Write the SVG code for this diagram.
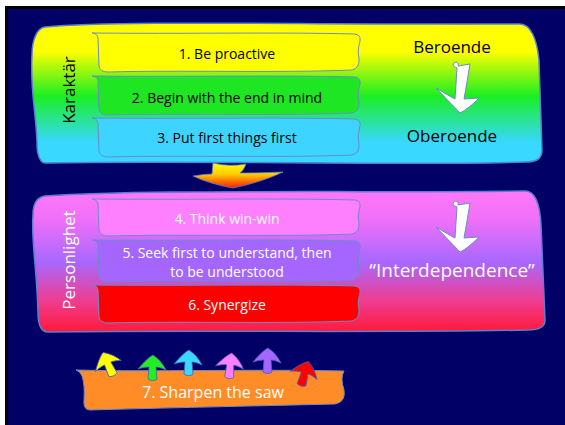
<svg xmlns="http://www.w3.org/2000/svg" width="565" height="425" viewBox="0 0 565 425">
<defs>
<linearGradient id="gTop" x1="0" y1="0" x2="0" y2="1">
<stop offset="0" stop-color="#ffff00"/>
<stop offset="0.2" stop-color="#ffff00"/>
<stop offset="0.52" stop-color="#1aee22"/>
<stop offset="0.85" stop-color="#38d8ff"/>
<stop offset="1" stop-color="#38d8ff"/>
</linearGradient>
<linearGradient id="gMid" x1="0" y1="0" x2="0" y2="1">
<stop offset="0" stop-color="#ff78f8"/>
<stop offset="0.2" stop-color="#f070f8"/>
<stop offset="0.5" stop-color="#a868ff"/>
<stop offset="0.78" stop-color="#f03c90"/>
<stop offset="1" stop-color="#ff1a3a"/>
</linearGradient>
<linearGradient id="gArrow" x1="0" y1="0" x2="0" y2="1">
<stop offset="0" stop-color="#ffff00"/>
<stop offset="0.45" stop-color="#ffcc00"/>
<stop offset="1" stop-color="#ff1a00"/>
</linearGradient>
<path id="wArrow" d="M 453,64 C 455,61 459,62 458,66 L 470,64 C 468,76 466,88 464,99 L 479,98 C 472,105 466,110 460,113 C 452,105 444,96 436,88 C 443,92 449,96 455,99 L 457,68 C 455,67 453,66 453,64 Z"/>
<path id="mush" d="M -14,5 C -8,-2 -3,-7 1,-9 C 7,-5 11,0 14,6 C 10,4 6,3 4,3 L 5,15 C 3,17 -2,17 -4,15 L -3,3 C -7,3 -11,4 -14,5 Z"/>
</defs>
<style>
.big{stroke:#5a7fd0;stroke-width:1.5}
.box{stroke:#6b8cc8;stroke-width:1}
.t{font-family:"Open Sans","DejaVu Sans",sans-serif;font-size:14px;text-anchor:middle;dominant-baseline:central}
.dark{fill:#000}
.light{fill:#fff}
.lbl{font-size:17px}
.sm{font-size:14px}
.big21{font-size:19px}
.s16{font-size:16px}
.warr{fill:#fff;stroke:#6b8cc8;stroke-width:1}
.mush{stroke:#4a5fb0;stroke-width:0.8}
</style>
<rect x="0" y="0" width="565" height="425" fill="#fff"/>
<rect x="5" y="6" width="560" height="419" fill="#000"/>
<rect x="8" y="9" width="557" height="416" fill="#000066"/>

<g id="character">
<path class="big" fill="url(#gTop)" d="M 45,27 C 120,20 320,25 520,24 C 531,24 537,40 539,60 L 542,150 C 542,160 535,162 525,162 C 400,166 200,160 46,163 C 39,163 37,152 37,142 C 36,112 30,90 32,55 C 32,40 37,28 45,27 Z"/>
<text class="t dark lbl" transform="translate(68,90) rotate(-90)">Karaktär</text>
</g>

<g id="box1">
<path class="box" fill="#ffff00" d="M 92,33 Q 97,33 98,38 L 99,66 Q 100,72 108,72 C 180,70 280,73 352,70 Q 360,68 359,58 Q 357,52 360,41 Q 361,35 355,34 C 280,32 180,34 92,33 Z"/>
<text class="t dark" x="227" y="53">1. Be proactive</text>
</g>
<g id="box2">
<path class="box" fill="#1ee622" d="M 92,76 Q 97,76 98,81 L 99,109 Q 100,115 108,115 C 180,113 280,116 352,113 Q 360,111 359,101 Q 357,95 360,84 Q 361,78 355,77 C 280,75 180,77 92,76 Z"/>
<text class="t dark" x="227" y="97">2. Begin with the end in mind</text>
</g>
<g id="box3">
<path class="box" fill="#3dd5ff" d="M 92,118 Q 97,118 98,123 L 99,151 Q 100,157 108,157 C 180,155 280,158 352,155 Q 360,153 359,143 Q 357,137 360,126 Q 361,120 355,119 C 280,117 180,119 92,118 Z"/>
<text class="t dark" x="227" y="137">3. Put first things first</text>
</g>
<g id="beroende">
<text class="t dark lbl" x="452" y="46">Beroende</text>
</g>
<g id="oberoende">
<text class="t dark lbl" x="452" y="135">Oberoende</text>
</g>

<g id="personality">
<path class="big" fill="url(#gMid)" d="M 45,196 C 150,189 350,193 525,191 C 536,191 540,205 541,225 L 545,320 C 545,328 538,330 528,330 C 400,333 200,330 48,332 C 40,332 38,322 38,312 C 37,270 31,240 33,215 C 33,203 38,197 45,196 Z"/>
<text class="t light lbl" transform="translate(68,260) rotate(-90)">Personlighet</text>
</g>
<g id="box4">
<path class="box" fill="#ff80ff" d="M 92,199 Q 97,199 98,204 L 99,230 Q 100,236 108,236 C 180,234 280,237 352,234 Q 360,232 359,222 Q 357,217 360,207 Q 361,201 355,200 C 280,198 180,200 92,199 Z"/>
<text class="t light" x="227" y="218">4. Think win-win</text>
</g>
<g id="box5">
<path class="box" fill="#a466ff" d="M 92,240 Q 97,240 98,245 L 99,276 Q 100,282 108,282 C 180,280 280,283 352,280 Q 360,278 359,268 Q 357,261 360,248 Q 361,242 355,241 C 280,239 180,241 92,240 Z"/>
<text class="t light sm" x="227" y="252">5. Seek first to understand, then</text>
<text class="t light sm" x="227" y="271">to be understood</text>
</g>
<g id="box6">
<path class="box" fill="#ff0000" d="M 92,285 Q 97,285 98,290 L 99,317 Q 100,323 108,323 C 180,321 280,324 352,321 Q 360,319 359,309 Q 357,303 360,293 Q 361,287 355,286 C 280,284 180,286 92,285 Z"/>
<text class="t light" x="227" y="304">6. Synergize</text>
</g>
<g id="interdependence">
<text class="t light big21" x="452" y="270">“Interdependence”</text>
</g>

<g id="box7">
<path class="box" fill="#ff8c26" d="M 76,370 C 150,372 250,369 344,371 Q 340,378 344,390 Q 346,402 335,404 C 250,406 160,408 90,410 Q 83,410 84,400 Q 85,385 82,376 Q 80,371 76,370 Z"/>
<text class="t light s16" x="213" y="392">7. Sharpen the saw</text>
</g>

<g id="connectors">
<use href="#wArrow" class="warr"/>
<use href="#wArrow" class="warr" transform="translate(0,139)"/>
<path fill="url(#gArrow)" stroke="#5a7fd0" stroke-width="0.8" d="M 213,163 Q 229,167 246,164 Q 244,170 240,173 Q 262,173 283,172 Q 262,182 233,188 Q 210,184 193,176 Q 205,174 212,174 Z"/>
<use href="#mush" class="mush" fill="#ffff00" transform="translate(106,361) rotate(-25)"/>
<use href="#mush" class="mush" fill="#22ee22" transform="translate(152,364)"/>
<use href="#mush" class="mush" fill="#38d8ff" transform="translate(188,359)"/>
<use href="#mush" class="mush" fill="#ff80ff" transform="translate(230,362) rotate(5)"/>
<use href="#mush" class="mush" fill="#a466ff" transform="translate(267,357)"/>
<use href="#mush" class="mush" fill="#ff0000" transform="translate(305,370) rotate(15)"/>
</g>
</svg>
